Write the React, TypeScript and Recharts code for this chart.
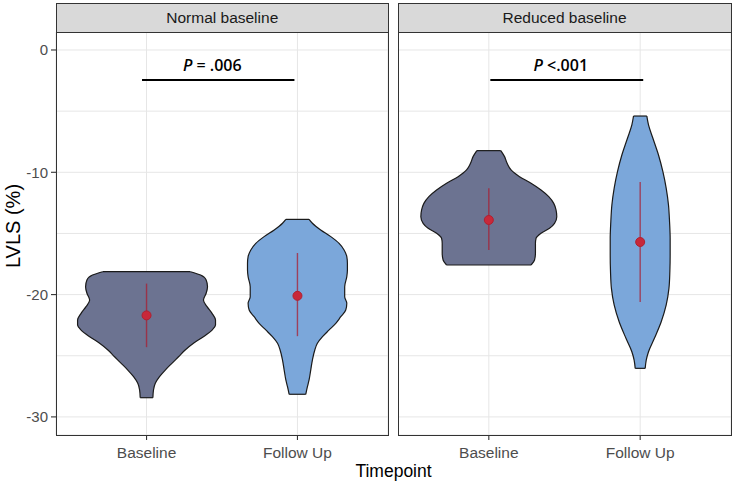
import React from "react";
import { ComposedChart, Area, Line, XAxis, YAxis, CartesianGrid, ReferenceLine } from "recharts";

const timepoints = ["Baseline", "Follow Up"];
const facets = ["Normal baseline", "Reduced baseline"];
const pTexts = [" = .006", " <.001"];
const yTicks = [-30, -25, -20, -15, -10, -5, 0];

// violin outlines: LVLS value and half width (in x units)
const normalBaseY = [-18.13, -18.4, -18.81, -19.35, -19.89, -20.44, -20.99, -21.53, -22.08, -22.49, -22.9, -23.44, -23.98, -24.53, -25.08, -25.62, -26.17, -26.71, -27.25, -27.8, -28.43];
const normalBaseW = [0.291, 0.358, 0.395, 0.404, 0.395, 0.377, 0.401, 0.434, 0.457, 0.457, 0.434, 0.377, 0.311, 0.256, 0.212, 0.168, 0.124, 0.086, 0.058, 0.046, 0.042];
const normalFollowY = [-13.85, -14.17, -14.72, -15.26, -15.81, -16.35, -16.9, -17.44, -17.99, -18.53, -19.35, -20.17, -20.71, -21.26, -21.81, -22.35, -22.89, -23.44, -23.98, -24.53, -25.35, -26.17, -26.98, -27.53, -28.15];
const normalFollowW = [0.077, 0.099, 0.154, 0.221, 0.276, 0.309, 0.327, 0.331, 0.331, 0.327, 0.313, 0.313, 0.327, 0.32, 0.287, 0.254, 0.21, 0.166, 0.132, 0.115, 0.099, 0.088, 0.077, 0.066, 0.055];
const reducedBaseY = [-8.23, -8.72, -9.27, -9.81, -10.36, -10.9, -11.45, -11.99, -12.54, -13.08, -13.63, -14.17, -14.58, -14.99, -15.4, -15.81, -16.62, -17.17, -17.58];
const reducedBaseW = [0.079, 0.104, 0.121, 0.147, 0.203, 0.279, 0.345, 0.396, 0.429, 0.444, 0.449, 0.434, 0.401, 0.345, 0.312, 0.308, 0.308, 0.302, 0.279];
const reducedFollowY = [-5.4, -6.13, -7.22, -8.59, -9.95, -11.31, -12.67, -14.04, -15.4, -16.76, -18.13, -19.49, -20.85, -22.22, -23.57, -24.67, -25.35, -26.03];
const reducedFollowW = [0.044, 0.055, 0.084, 0.121, 0.15, 0.172, 0.187, 0.194, 0.198, 0.198, 0.196, 0.19, 0.172, 0.139, 0.094, 0.055, 0.04, 0.033];

// mean and spread per timepoint
const normalMean = [-21.7, -20.1];
const normalLow = [-24.3, -23.4];
const normalHigh = [-19.1, -16.6];
const reducedMean = [-13.9, -15.7];
const reducedLow = [-16.35, -20.6];
const reducedHigh = [-11.3, -10.8];

// significance bar
const barY = [-2.45, -2.45];
const barStart = [0.97, 1.01];
const barEnd = [1.98, 2.02];

const violinY = [[normalBaseY, normalFollowY], [reducedBaseY, reducedFollowY]];
const violinW = [[normalBaseW, normalFollowW], [reducedBaseW, reducedFollowW]];
const means = [normalMean, reducedMean];
const lows = [normalLow, reducedLow];
const highs = [normalHigh, reducedHigh];

const fills = ["#6c7391", "#7ba7da"];
const FONT = "'Liberation Sans', Arial, sans-serif";

const YTick = (props: any) => {
  const { x, y, payload } = props;
  if (payload.value % 10 !== 0) return <g />;
  return (
    <g>
      <line x1={x - 5} x2={x} y1={y} y2={y} stroke="#333" strokeWidth={1.1} />
      <text x={x - 8} y={y} dy="0.36em" textAnchor="end" fill="#4d4d4d" fontSize={15} fontFamily={FONT}>
        {payload.value}
      </text>
    </g>
  );
};

const XTick = (props: any) => {
  const { x, y, payload } = props;
  return (
    <g>
      <line x1={x} x2={x} y1={y} y2={y + 5} stroke="#333" strokeWidth={1.1} />
      <text x={x} y={y + 23} textAnchor="middle" fill="#4d4d4d" fontSize={15.5} fontFamily={FONT}>
        {timepoints[payload.value - 1]}
      </text>
    </g>
  );
};

const MeanDot = (props: any) => {
  const { cx, cy, payload, index } = props;
  if (!payload.mean) return <g key={index} />;
  return <circle key={index} cx={cx} cy={cy} r={4.5} fill="#c8283a" stroke="#b02030" strokeWidth={1} />;
};

function Panel({ p }: { p: number }) {
  return (
    <ComposedChart
      width={p === 0 ? 388 : 333}
      height={433}
      layout="vertical"
      margin={{ top: 0, right: 0, bottom: 0, left: 0 }}
    >
      <CartesianGrid stroke="#e6e6e6" strokeWidth={1} />
      <XAxis
        type="number"
        domain={[0.4, 2.6]}
        allowDataOverflow
        ticks={[1, 2]}
        interval={0}
        height={30}
        axisLine={false}
        tickLine={false}
        tickSize={0}
        tickMargin={0}
        tick={<XTick />}
      />
      <YAxis
        type="number"
        dataKey="y"
        domain={[-31.48, 1.47]}
        allowDataOverflow
        reversed
        ticks={yTicks}
        interval={0}
        width={56}
        hide={p !== 0}
        axisLine={false}
        tickLine={false}
        tickSize={0}
        tickMargin={0}
        tick={<YTick />}
      />
      {[0, 1].map((t) => {
        const c = t + 1;
        const ys = violinY[p][t];
        const ws = violinW[p][t];
        const rows = ys.map((y, i) => ({ y, w: [c - ws[i], c + ws[i]] }));
        return (
          <Area
            key={"v" + t}
            data={rows}
            dataKey="w"
            type="monotone"
            fill={fills[t]}
            fillOpacity={1}
            stroke="#1a1a1a"
            strokeWidth={1.2}
            dot={false}
            activeDot={false}
            isAnimationActive={false}
          />
        );
      })}
      {[0, 1].map((t) =>
        [0, violinY[p][t].length - 1].map((i) => {
          const c = t + 1;
          const y = violinY[p][t][i];
          const w = violinW[p][t][i];
          return (
            <Line
              key={"cap" + t + i}
              data={[{ y, x: c - w }, { y, x: c + w }]}
              dataKey="x"
              type="linear"
              stroke="#1a1a1a"
              strokeWidth={1.2}
              dot={false}
              activeDot={false}
              isAnimationActive={false}
            />
          );
        })
      )}
      {[0, 1].map((t) => (
        <Line
          key={"m" + t}
          data={[
            { y: highs[p][t], x: t + 1 },
            { y: means[p][t], x: t + 1, mean: true },
            { y: lows[p][t], x: t + 1 },
          ]}
          dataKey="x"
          type="linear"
          stroke="#a81e32"
          strokeOpacity={0.75}
          strokeWidth={1.4}
          dot={<MeanDot />}
          activeDot={false}
          isAnimationActive={false}
        />
      ))}
      <ReferenceLine
        segment={[
          { x: barStart[p], y: barY[p] },
          { x: barEnd[p], y: barY[p] },
        ]}
        stroke="#000"
        strokeWidth={2}
        label={(lp: any) => {
          const vb = lp.viewBox || {};
          return (
            <text
              x={vb.x + (vb.width || 0) / 2 - 6}
              y={vb.y - 9}
              textAnchor="middle"
              fontSize={16}
              fontWeight={600}
              fontFamily="'Open Sans', sans-serif"
              fill="#000"
            >
              <tspan fontStyle="italic">P</tspan>
              {pTexts[p]}
            </text>
          );
        }}
      />
    </ComposedChart>
  );
}

const frame = (left: number, width: number, label: string) => (
  <div
    style={{
      position: "absolute",
      left,
      top: 3,
      width,
      height: 433,
      border: "1.2px solid #333",
      boxSizing: "border-box",
      pointerEvents: "none",
    }}
  >
    <div
      style={{
        height: 28,
        background: "#d9d9d9",
        borderBottom: "1.2px solid #333",
        textAlign: "center",
        lineHeight: "28px",
        fontSize: 15.5,
        fontFamily: FONT,
        color: "#1a1a1a",
      }}
    >
      {label}
    </div>
  </div>
);

export default function App() {
  return (
    <div style={{ position: "absolute", left: 0, top: 0, width: 734, height: 485, background: "#fff", fontFamily: FONT }}>
      <div style={{ position: "absolute", left: 0, top: 32 }}>
        <Panel p={0} />
      </div>
      <div style={{ position: "absolute", left: 398, top: 32 }}>
        <Panel p={1} />
      </div>
      {frame(55.5, 333.5, facets[0])}
      {frame(397.5, 334, facets[1])}
      <div
        style={{
          position: "absolute",
          left: 13,
          top: 226,
          transform: "translate(-50%, -50%) rotate(-90deg)",
          fontSize: 20,
          whiteSpace: "nowrap",
          color: "#000",
        }}
      >
        LVLS (%)
      </div>
      <div
        style={{
          position: "absolute",
          left: 393.5,
          top: 471,
          transform: "translate(-50%, -50%)",
          fontSize: 17.5,
          whiteSpace: "nowrap",
          color: "#000",
        }}
      >
        Timepoint
      </div>
    </div>
  );
}
